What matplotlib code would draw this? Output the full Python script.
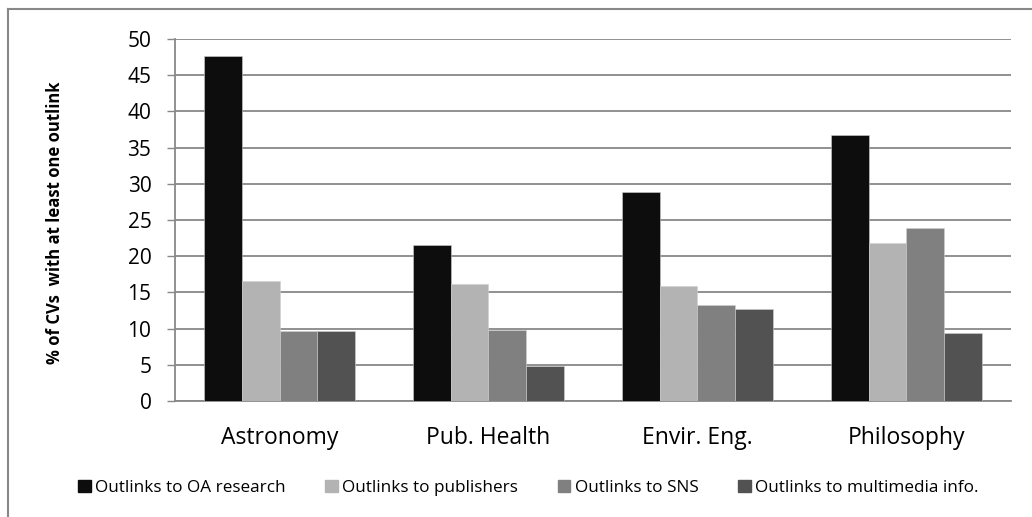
import matplotlib.pyplot as plt
import numpy as np
from matplotlib.lines import Line2D

plt.rcParams['font.family'] = ['Open Sans', 'DejaVu Sans']

categorias = ['Astronomy', 'Pub. Health', 'Envir. Eng.', 'Philosophy']
series = ['Outlinks to OA research', 'Outlinks to publishers',
          'Outlinks to SNS', 'Outlinks to multimedia info.']
oa_research = [47.6, 21.5, 28.8, 36.7]
publishers = [16.6, 16.1, 15.9, 21.8]
sns = [9.7, 9.8, 13.2, 23.9]
multimedia = [9.7, 4.8, 12.7, 9.4]
colores = ['#0d0d0d', '#b3b3b3', '#808080', '#525252']

fig = plt.figure(figsize=(10.32, 5.17), dpi=100)
ax = fig.add_axes([0.1696, 0.2244, 0.81, 0.7002])

x = np.arange(len(categorias))
ancho = 0.18
datos = [oa_research, publishers, sns, multimedia]
for i, (d, c, s) in enumerate(zip(datos, colores, series)):
    ax.bar(x + (i - 1.5) * ancho, d, ancho, color=c, label=s,
           edgecolor='#d0d0d0', linewidth=0.4, zorder=3)

ax.set_xlim(-0.5, 3.5)
ax.set_ylim(0, 50)
ax.set_yticks(range(0, 51, 5))
ax.set_xticks(x)
ax.set_xticklabels(categorias)
ax.yaxis.grid(True, color='#888888', linewidth=1.3, zorder=0)
ax.tick_params(axis='y', length=6, width=1, color='#888888', pad=11, labelsize=15)
ax.tick_params(axis='x', length=0, pad=18, labelsize=16.5)
for s in ['top', 'right']:
    ax.spines[s].set_visible(False)
for s in ['left', 'bottom']:
    ax.spines[s].set_color('#888888')
    ax.spines[s].set_linewidth(1.3)

fig.text(0.053, 0.569, '% of CVs  with at least one outlink', rotation=90,
         ha='center', va='center', fontsize=12, fontweight='bold')

handles = [plt.Rectangle((0, 0), 1, 1, color=c) for c in colores]
fig.legend(handles, series, loc='center', bbox_to_anchor=(0.512, 0.056), ncol=4,
           frameon=False, fontsize=12.3, handlelength=0.75, handleheight=0.75,
           handletextpad=0.25, columnspacing=2.3)

# marco gris
fig.add_artist(Line2D([0.0078, 0.0078], [0, 0.983], color='#888888', lw=1.5,
                      transform=fig.transFigure))
fig.add_artist(Line2D([0.0078, 1], [0.983, 0.983], color='#888888', lw=1.5,
                      transform=fig.transFigure))

fig.savefig('out.png', dpi=100)
